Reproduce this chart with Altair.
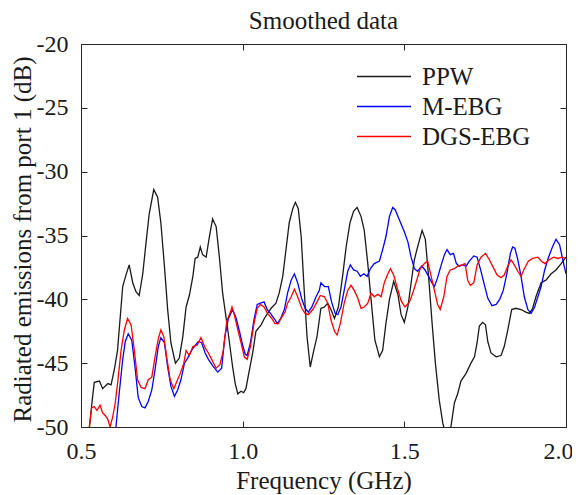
import altair as alt
import pandas as pd

# ---------------- data ----------------
series_names = ["PPW", "M-EBG", "DGS-EBG"]
series_colors = ["#1a1a1a", "#0000ff", "#ff0000"]

x_ticks = [0.5, 1.0, 1.5, 2.0]
y_ticks = [-50, -45, -40, -35, -30, -25, -20]

ppw_freq = [0.515, 0.526, 0.536, 0.541, 0.557, 0.567, 0.583, 0.593, 0.603, 0.613,
            0.629, 0.639, 0.649, 0.660, 0.670, 0.680, 0.691, 0.701, 0.711, 0.725,
            0.737, 0.747, 0.758, 0.768, 0.778, 0.792, 0.804, 0.815, 0.825, 0.835,
            0.846, 0.853, 0.861, 0.869, 0.876, 0.887, 0.897, 0.907, 0.918, 0.928,
            0.938, 0.954, 0.969, 0.977, 0.985, 0.995, 1.003, 1.010, 1.021, 1.031,
            1.041, 1.057, 1.067, 1.077, 1.088, 1.103, 1.113, 1.124, 1.134, 1.144,
            1.155, 1.163, 1.172, 1.181, 1.189, 1.199, 1.209, 1.220, 1.230, 1.242,
            1.253, 1.263, 1.273, 1.284, 1.296, 1.309, 1.320, 1.332, 1.343, 1.354,
            1.366, 1.376, 1.387, 1.397, 1.409, 1.423, 1.433, 1.443, 1.454, 1.467,
            1.480, 1.490, 1.500, 1.511, 1.521, 1.531, 1.541, 1.555, 1.565, 1.575,
            1.586, 1.596, 1.608, 1.619, 1.632, 1.644, 1.655, 1.665, 1.675, 1.691,
            1.706, 1.717, 1.725, 1.732, 1.742, 1.751, 1.758, 1.768, 1.784, 1.799,
            1.809, 1.820, 1.832, 1.845, 1.861, 1.876, 1.887, 1.897, 1.907, 1.923,
            1.938, 1.954, 1.969, 1.985, 2.000]
ppw_db = [-51.5, -50.0, -47.6, -46.5, -46.4, -47.0, -46.6, -46.7, -45.5, -44.0,
          -39.0, -38.1, -37.3, -38.7, -39.4, -39.7, -38.0, -35.6, -33.3, -31.4,
          -32.0, -34.0, -37.4, -40.8, -43.4, -45.0, -44.6, -42.9, -40.6, -39.7,
          -38.2, -36.8, -36.7, -35.9, -36.5, -36.7, -35.1, -33.7, -34.3, -36.7,
          -39.5, -42.4, -45.3, -46.6, -47.4, -47.2, -47.3, -47.0, -45.5, -44.2,
          -42.5, -42.0, -41.5, -41.1, -40.7, -40.3, -39.5, -38.2, -36.1, -34.0,
          -32.9, -32.4, -32.9, -35.1, -38.7, -42.9, -45.3, -44.0, -42.9, -40.7,
          -40.6, -40.3, -40.8, -41.5, -40.6, -38.2, -35.9, -34.0, -33.1, -32.8,
          -33.5, -34.6, -37.2, -40.0, -43.2, -44.5, -44.0, -41.9, -40.0, -38.6,
          -39.6, -41.2, -41.8, -40.6, -38.7, -36.9, -35.9, -34.6, -35.3, -38.2,
          -41.9, -45.0, -47.9, -49.7, -51.0, -50.0, -48.1, -47.4, -46.4, -45.8,
          -45.0, -44.5, -43.4, -42.1, -41.8, -42.0, -43.3, -44.2, -44.5, -44.4,
          -43.7, -42.4, -40.8, -40.7, -40.8, -41.0, -41.1, -40.7, -39.8, -38.7,
          -38.5, -38.0, -37.7, -37.2, -36.7]

mebg_freq = [0.602, 0.608, 0.618, 0.629, 0.637, 0.646, 0.657, 0.667, 0.677, 0.688,
             0.698, 0.708, 0.719, 0.729, 0.739, 0.747, 0.758, 0.768, 0.778, 0.789,
             0.799, 0.809, 0.820, 0.830, 0.842, 0.853, 0.863, 0.873, 0.884, 0.894,
             0.907, 0.923, 0.935, 0.945, 0.956, 0.969, 0.979, 0.990, 1.000, 1.008,
             1.014, 1.024, 1.035, 1.045, 1.055, 1.066, 1.076, 1.086, 1.097, 1.108,
             1.119, 1.129, 1.139, 1.150, 1.160, 1.170, 1.183, 1.193, 1.203, 1.214,
             1.227, 1.237, 1.242, 1.253, 1.265, 1.275, 1.286, 1.294, 1.304, 1.314,
             1.325, 1.333, 1.343, 1.354, 1.364, 1.375, 1.385, 1.395, 1.407, 1.423,
             1.433, 1.443, 1.454, 1.464, 1.472, 1.480, 1.490, 1.500, 1.511, 1.521,
             1.531, 1.541, 1.554, 1.564, 1.575, 1.585, 1.593, 1.603, 1.613, 1.624,
             1.632, 1.642, 1.652, 1.661, 1.670, 1.681, 1.691, 1.701, 1.715, 1.725,
             1.735, 1.746, 1.758, 1.771, 1.784, 1.795, 1.806, 1.817, 1.828, 1.835,
             1.842, 1.851, 1.861, 1.871, 1.882, 1.892, 1.903, 1.913, 1.923, 1.934,
             1.946, 1.958, 1.969, 1.980, 1.990, 2.000]
mebg_db = [-51.5, -50.0, -47.4, -44.7, -43.3, -42.7, -43.2, -45.3, -47.7, -48.4,
           -48.5, -48.0, -47.1, -45.5, -43.7, -43.0, -43.4, -45.3, -46.8, -47.6,
           -47.1, -46.3, -45.0, -44.6, -44.0, -43.6, -43.3, -43.4, -44.2, -44.7,
           -45.2, -45.7, -45.4, -42.9, -41.5, -40.8, -41.4, -42.5, -43.6, -44.3,
           -44.4, -43.4, -41.6, -40.4, -40.3, -40.2, -40.8, -41.1, -41.5, -41.9,
           -41.4, -40.8, -39.5, -38.5, -38.0, -38.7, -40.0, -40.7, -41.0, -40.6,
           -39.8, -39.3, -38.7, -39.0, -39.0, -40.2, -41.1, -41.2, -40.6, -39.3,
           -37.8, -37.3, -37.7, -37.8, -38.2, -38.0, -38.2, -37.6, -37.2, -37.0,
           -36.1, -35.1, -33.5, -32.8, -33.0, -33.5, -34.1, -34.7, -35.5, -36.7,
           -37.6, -37.8, -37.4, -37.7, -38.2, -38.7, -39.0, -38.3, -37.4, -36.5,
           -36.1, -36.5, -36.4, -37.2, -37.4, -37.3, -37.4, -37.0, -36.6, -36.7,
           -37.6, -38.7, -39.9, -40.5, -40.4, -40.0, -39.3, -38.0, -36.4, -35.9,
           -36.0, -36.9, -38.2, -39.8, -40.8, -41.1, -40.6, -39.8, -39.0, -37.7,
           -36.7, -35.9, -35.3, -35.7, -36.9, -38.0]

dgs_freq = [0.515, 0.526, 0.533, 0.541, 0.549, 0.559, 0.567, 0.575, 0.583, 0.590,
            0.598, 0.606, 0.613, 0.624, 0.634, 0.644, 0.655, 0.665, 0.675, 0.686,
            0.698, 0.708, 0.719, 0.729, 0.739, 0.747, 0.756, 0.766, 0.776, 0.787,
            0.797, 0.807, 0.818, 0.825, 0.835, 0.846, 0.859, 0.871, 0.884, 0.894,
            0.904, 0.918, 0.930, 0.940, 0.951, 0.962, 0.967, 0.974, 0.985, 0.995,
            1.005, 1.014, 1.024, 1.035, 1.045, 1.055, 1.066, 1.077, 1.090, 1.100,
            1.110, 1.121, 1.131, 1.139, 1.150, 1.160, 1.170, 1.183, 1.193, 1.203,
            1.217, 1.230, 1.240, 1.253, 1.263, 1.273, 1.284, 1.292, 1.302, 1.314,
            1.325, 1.335, 1.345, 1.356, 1.366, 1.376, 1.387, 1.397, 1.407, 1.418,
            1.428, 1.438, 1.449, 1.457, 1.467, 1.477, 1.490, 1.502, 1.516, 1.526,
            1.536, 1.549, 1.562, 1.572, 1.583, 1.593, 1.603, 1.611, 1.622, 1.632,
            1.642, 1.655, 1.665, 1.678, 1.688, 1.696, 1.704, 1.715, 1.725, 1.737,
            1.751, 1.763, 1.773, 1.787, 1.799, 1.809, 1.820, 1.830, 1.840, 1.851,
            1.861, 1.871, 1.884, 1.897, 1.913, 1.923, 1.935, 1.948, 1.962, 1.975,
            1.987, 2.000]
dgs_db = [-51.5, -50.0, -48.5, -48.4, -48.7, -48.3, -48.9, -49.1, -49.4, -50.0,
          -49.2, -48.1, -46.6, -44.0, -42.4, -41.5, -42.0, -44.0, -46.3, -46.9,
          -47.0, -46.3, -46.1, -44.5, -43.1, -42.4, -42.9, -44.7, -46.3, -47.0,
          -46.4, -45.8, -45.0, -44.0, -44.4, -43.7, -43.6, -43.0, -43.8, -44.2,
          -44.7, -45.4, -45.1, -44.0, -41.7, -41.0, -40.6, -41.2, -42.4, -43.4,
          -44.5, -44.7, -43.7, -41.9, -40.7, -40.4, -40.6, -41.1, -41.5, -41.9,
          -41.9, -41.4, -41.0, -40.3, -39.8, -39.2, -39.8, -40.7, -41.1, -41.2,
          -40.8, -40.2, -39.7, -39.8, -40.3, -41.6, -42.5, -42.8, -41.9, -40.3,
          -39.3, -38.9, -39.3, -39.9, -40.7, -40.6, -40.3, -39.5, -39.8, -39.6,
          -39.8, -38.7, -38.0, -37.6, -38.1, -39.0, -40.1, -40.6, -40.2, -39.5,
          -38.7, -37.6, -37.2, -37.0, -38.2, -39.3, -40.4, -40.8, -39.8, -38.2,
          -37.7, -37.6, -37.4, -37.3, -37.2, -38.5, -38.9, -38.7, -37.3, -36.7,
          -36.4, -36.9, -37.4, -38.1, -38.3, -38.1, -37.4, -36.9, -37.3, -37.8,
          -38.2, -37.6, -37.0, -36.8, -36.7, -37.0, -37.2, -36.9, -36.7, -36.8,
          -36.7, -36.8]

rows = []
for name, fr, db in zip(series_names, [ppw_freq, mebg_freq, dgs_freq],
                        [ppw_db, mebg_db, dgs_db]):
    for f, d in zip(fr, db):
        rows.append({"series": name, "freq": f, "db": d})
df = pd.DataFrame(rows)

FONT = "Liberation Serif"
W, H = 485, 383
INK = "#1a1a1a"

x_scale = alt.Scale(domain=[0.5, 2.0], nice=False, zero=False)
y_scale = alt.Scale(domain=[-50, -20], nice=False, zero=False)

lines = alt.Chart(df).mark_line(strokeWidth=1.3, clip=True).encode(
    x=alt.X("freq:Q", scale=x_scale,
            axis=alt.Axis(orient="bottom", values=x_ticks, format=".1f",
                          labelFlush=False,
                          labelOffset={"condition": {"test": "datum.value == 2",
                                                     "value": -8},
                                       "value": 0},
                          offset=-6, tickSize=6, labelPadding=12, domain=False,
                          grid=False, title="Frequency (GHz)",
                          titleBaseline="alphabetic", titleY=67)),
    y=alt.Y("db:Q", scale=y_scale,
            axis=alt.Axis(orient="left", values=y_ticks,
                          labelExpr="datum.value + ''", labelFlush=False,
                          offset=-6, tickSize=6, labelPadding=13, domain=False,
                          grid=False, title="Radiated emissions from port 1 (dB)",
                          titleFontSize=25,
                          titleBaseline="alphabetic", titleX=-57, titleY=195)),
    color=alt.Color("series:N",
                    scale=alt.Scale(domain=series_names, range=series_colors),
                    sort=series_names,
                    legend=alt.Legend(title=None, orient="none",
                                      legendX=275, legendY=18,
                                      symbolType="M-1,0H3", symbolSize=729,
                                      symbolStrokeWidth=1.3,
                                      labelFont=FONT, labelFontSize=25,
                                      labelColor=INK, labelOffset=37,
                                      labelLimit=300, rowPadding=2,
                                      padding=0)),
)

frame_ticks = alt.Chart(df).mark_point(opacity=0).encode(
    x=alt.X("freq:Q", scale=x_scale,
            axis=alt.Axis(orient="top", values=x_ticks, labels=False,
                          offset=-6, tickSize=6, domain=False, grid=False,
                          title=None)),
    y=alt.Y("db:Q", scale=y_scale,
            axis=alt.Axis(orient="right", values=y_ticks, labels=False,
                          offset=-6, tickSize=6, domain=False, grid=False,
                          title=None)),
)

chart = alt.layer(lines, frame_ticks).resolve_axis(
    x="independent", y="independent"
).properties(
    width=W, height=H,
    title=alt.Title("Smoothed data", font=FONT, fontSize=25,
                    fontWeight="normal", color=INK, anchor="middle",
                    baseline="alphabetic", offset=16, dy=38),
    padding={"left": 73, "top": 36, "right": 6, "bottom": 68},
    autosize=alt.AutoSizeParams(type="none"),
).configure_view(
    stroke="#262626", strokeWidth=1
).configure_axis(
    labelFont=FONT, titleFont=FONT, labelFontSize=24, titleFontSize=25,
    titleFontWeight="normal", labelColor=INK, titleColor=INK,
    tickColor="#262626", tickWidth=1
)

chart.save("out.html", embed_options={"renderer": "svg", "actions": False})
